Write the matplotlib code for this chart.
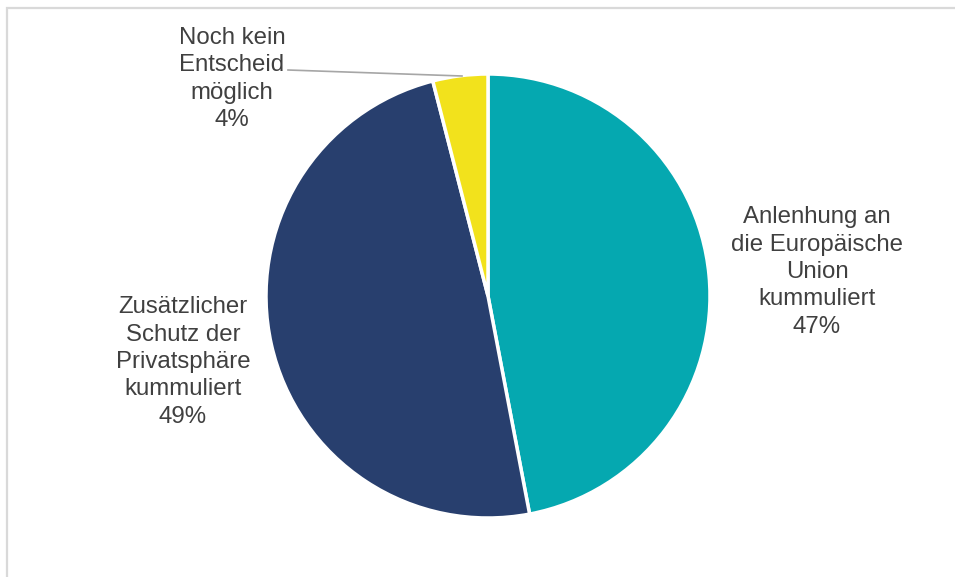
import matplotlib
matplotlib.use("Agg")
import matplotlib.pyplot as plt
from matplotlib.patches import Rectangle

categories = ["Anlenhung an\ndie Europäische\nUnion\nkummuliert",
              "Zusätzlicher\nSchutz der\nPrivatsphäre\nkummuliert",
              "Noch kein\nEntscheid\nmöglich"]
values = [47, 49, 4]
colors = ["#05A8B0", "#283F6E", "#F2E21C"]

plt.rcParams['font.family'] = ['Liberation Sans', 'DejaVu Sans']

W, H = 955, 577
fig = plt.figure(figsize=(W / 100, H / 100), dpi=100)
ax = fig.add_axes([0, 0, 1, 1])
ax.set_xlim(0, W)
ax.set_ylim(0, H)
ax.set_aspect('equal')
ax.axis('off')

# frame
ax.add_patch(Rectangle((7, -10), W + 20, H - 8 + 10, fill=False,
                       edgecolor="#d9d9d9", linewidth=1.6))

cx, cy, r = 488, H - 296, 222
ax.pie(values, colors=colors, startangle=90, counterclock=False,
       center=(cx, cy), radius=r, frame=True,
       wedgeprops=dict(edgecolor="white", linewidth=2.5))
ax.set_xlim(0, W)
ax.set_ylim(0, H)
ax.axis('off')

txtc = "#404040"
fs = 17.3
label_pos = [(817, H - 272), (183, H - 362), (232, H - 79)]
for cat, v, (x, y) in zip(categories, values, label_pos):
    ax.text(x, y, f"{cat}\n{v}%", ha='center', va='center', multialignment='center',
            fontsize=fs, color=txtc, linespacing=1.31)

# leader line for small slice
ax.plot([288, 462], [H - 70, H - 76], color="#a6a6a6", linewidth=1.2)

fig.savefig("out.png", dpi=100)
